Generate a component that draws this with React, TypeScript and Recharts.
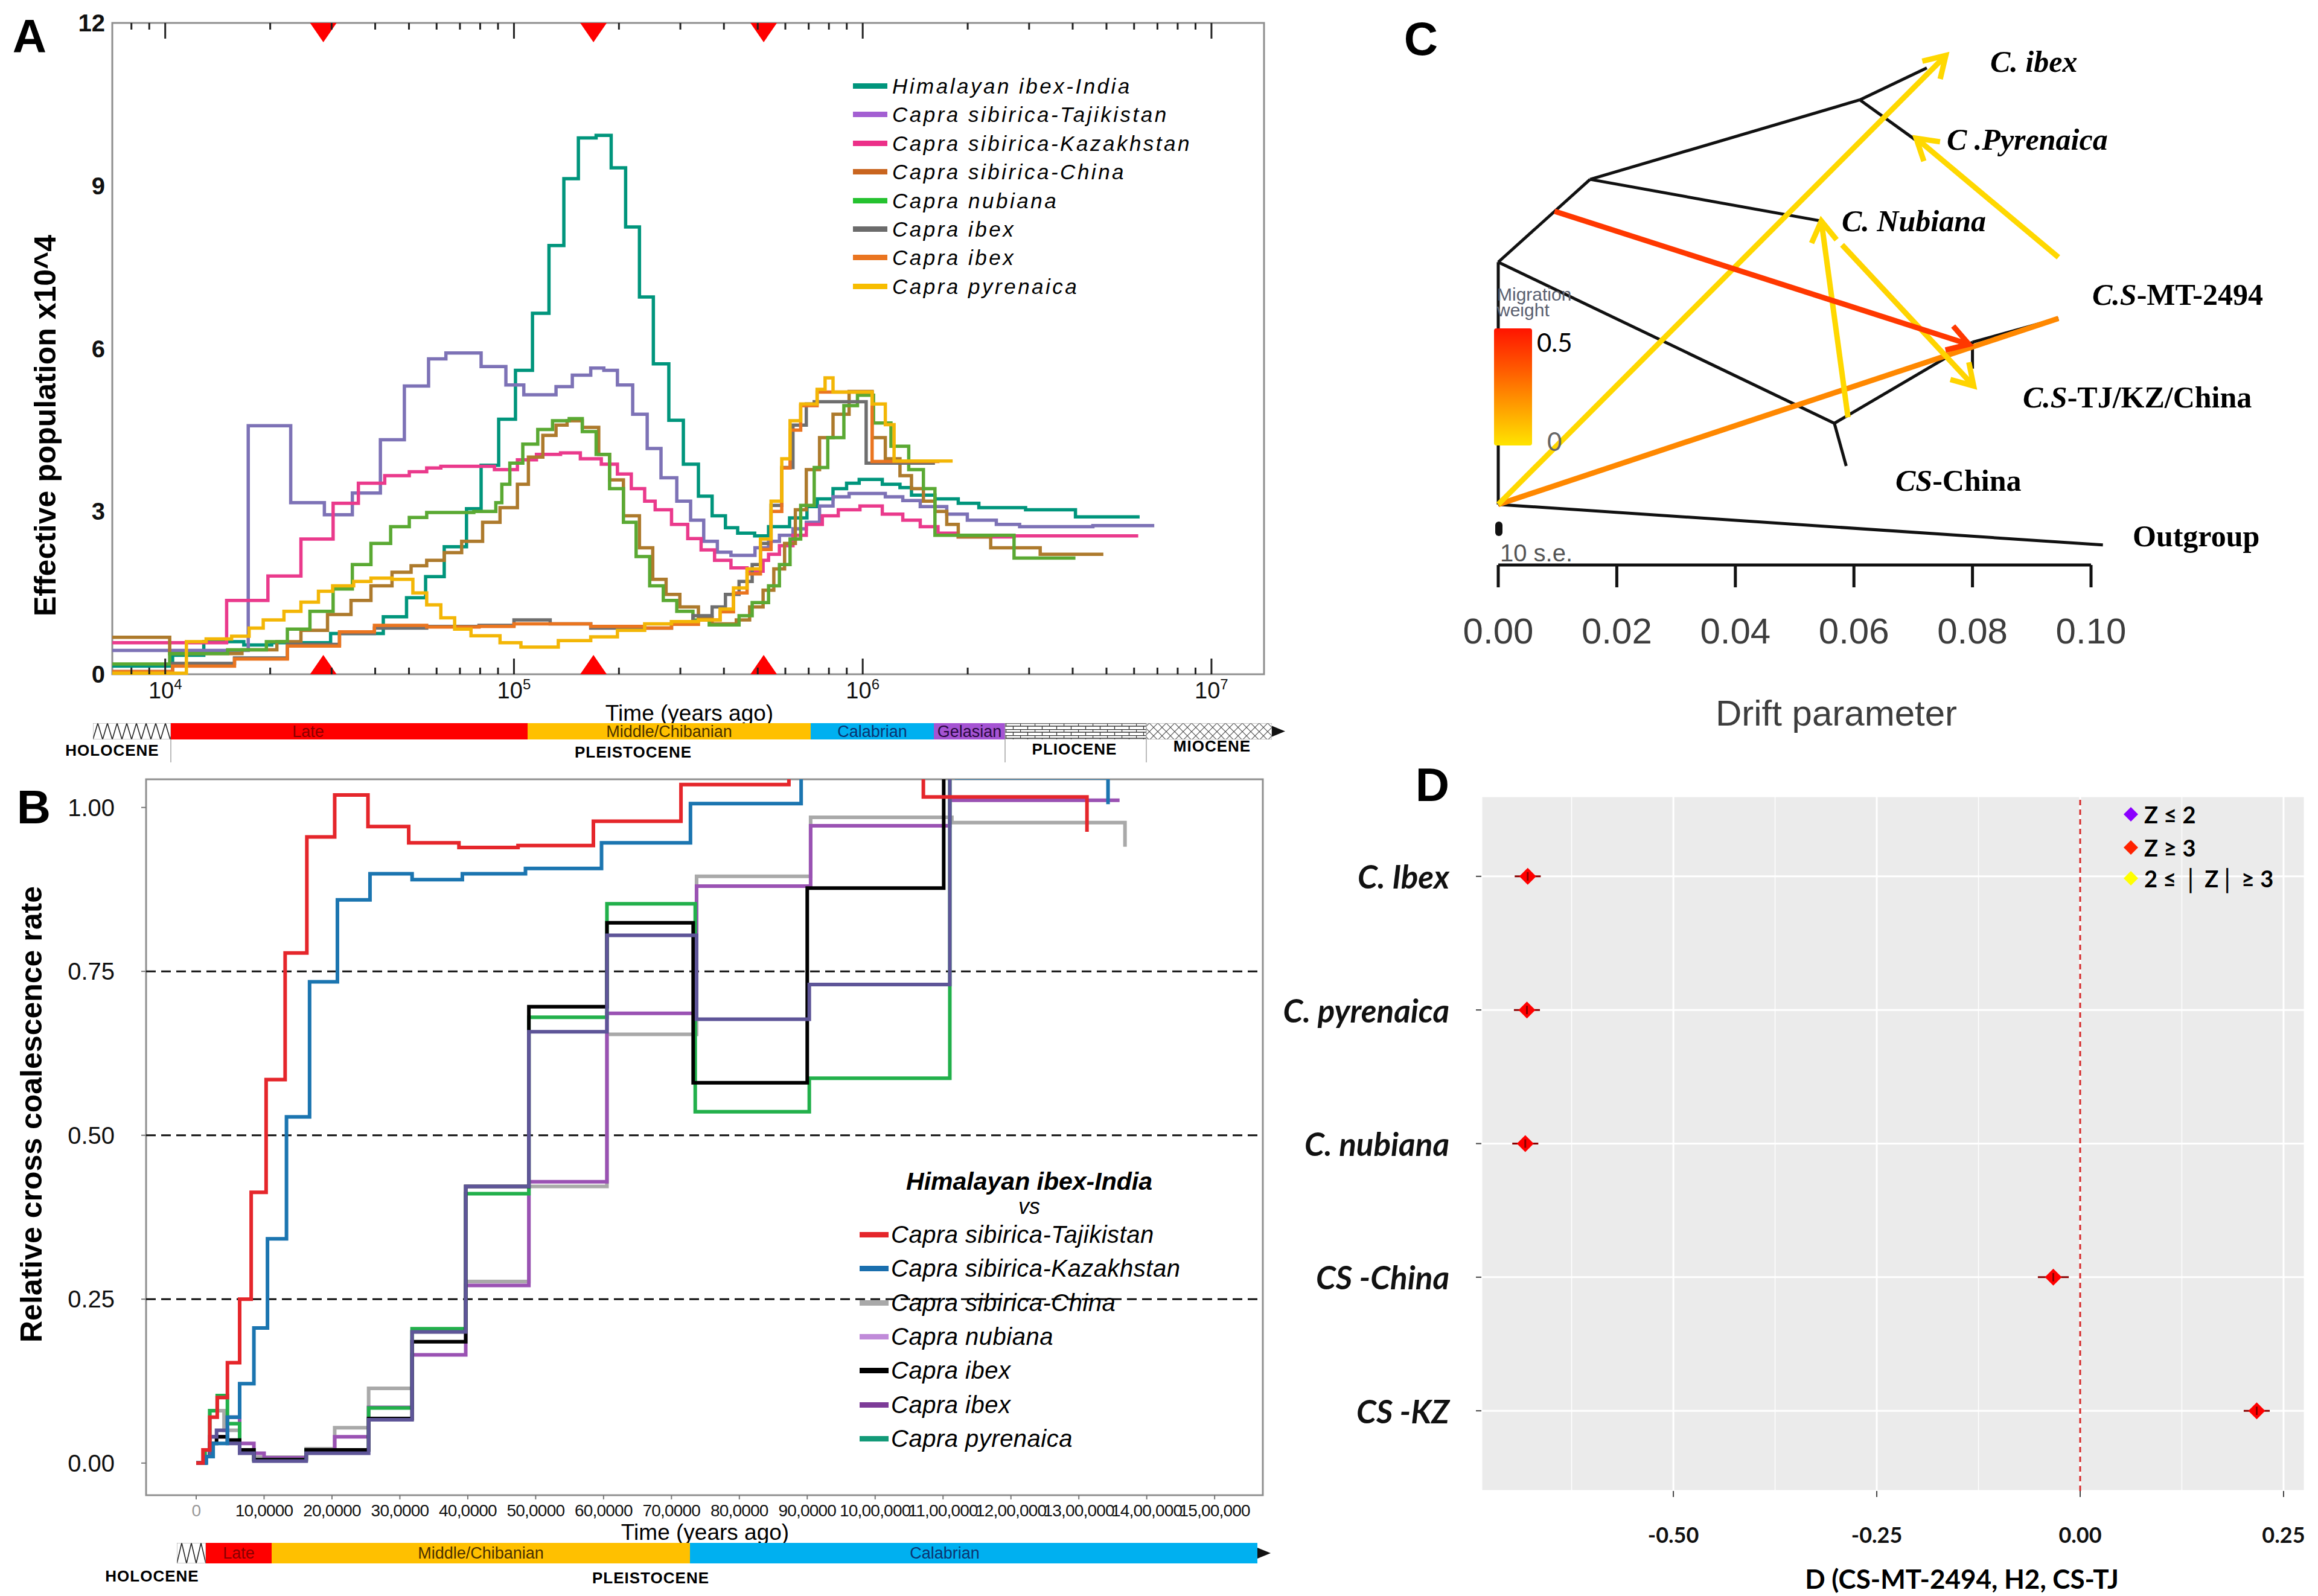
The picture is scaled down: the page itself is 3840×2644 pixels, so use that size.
import React from 'react';
import {
  ComposedChart, Line, XAxis, YAxis, ReferenceLine, ReferenceArea, ReferenceDot,
  ScatterChart, Scatter, ErrorBar, CartesianGrid, BarChart, Bar, LabelList,
} from 'recharts';

const SANS = "'Liberation Sans', Arial, Helvetica, sans-serif";
const SERIF = "'Liberation Serif', 'Times New Roman', serif";
const CAL = "Lato, 'Open Sans', sans-serif";

// ---------------- A: PSMC, [years ago, Ne x10^4] (step starts) ----------------
const psmcNames = [
  'Himalayan ibex-India', 'Capra sibirica-Tajikistan', 'Capra sibirica-Kazakhstan', 'Capra sibirica-China',
  'Capra nubiana', 'Capra ibex', 'Capra ibex', 'Capra pyrenaica',
];
const psmcColors = ['#00957c', '#7d72b6', '#ea3a8c', '#ad7a2c', '#5aa933', '#6e6e6e', '#ea7520', '#f3b606'];
const psmcLegendColors = ['#00957c', '#a35fd2', '#ec2f88', '#c9651f', '#25c22f', '#6b6b6b', '#ea7520', '#f7bd00'];

const himalayanIndia = [[7050,0.15],[10500,0.35],[12900,0.6],[16800,0.54],[20200,0.58],[29800,0.75],[42200,1.06],[49200,1.41],[55800,1.8],[63100,2.35],[73100,3.05],[80500,3.85],[90400,4.7],[101000,5.6],[113000,6.65],[126000,7.9],[139000,9.13],[153000,9.88],[172000,9.93],[190000,9.33],[209000,8.24],[229000,6.95],[251000,5.72],[278000,4.68],[306000,3.87],[338000,3.28],[370000,2.92],[404000,2.7],[438000,2.6],[490000,2.55],[537000,2.72],[617000,2.88],[692000,3.09],[741000,3.23],[822000,3.42],[899000,3.52],[977000,3.59],[1138000,3.5],[1279000,3.44],[1380000,3.3],[1611000,3.23],[1879000,3.15],[2153000,3.07],[2931000,3.03],[4074000,2.9],[6223000,2.9]];
const sibiricaTajikistan = [[7050,0.44],[17300,4.58],[22900,3.16],[28600,2.94],[34400,3.34],[41400,4.32],[48500,5.31],[56900,5.81],[63800,5.92],[80500,5.67],[94800,5.33],[106700,5.15],[132000,5.3],[147000,5.51],[166000,5.64],[181000,5.6],[198000,5.33],[219000,4.79],[241000,4.16],[264000,3.62],[293000,3.19],[321000,2.84],[350000,2.45],[383000,2.25],[419000,2.19],[491000,2.33],[537000,2.45],[577000,2.56],[631000,2.68],[689000,2.8],[752000,3.1],[822000,3.27],[914000,3.33],[1161000,3.27],[1303000,3.2],[1462000,3.09],[1742000,2.95],[1995000,2.84],[2416000,2.76],[2818000,2.72],[4571000,2.74],[6855000,2.74]];
const sibiricaKazakhstan = [[7050,0.58],[15000,1.36],[19700,1.81],[24500,2.49],[30300,3.15],[35800,3.52],[42600,3.66],[50100,3.73],[56200,3.8],[61700,3.83],[87900,3.77],[102300,3.95],[116000,4.05],[136000,4.08],[155000,3.97],[178000,3.87],[198000,3.69],[217000,3.42],[237000,3.19],[254000,3.03],[283000,2.76],[315000,2.5],[344000,2.29],[376000,2.1],[419000,1.96],[466000,1.9],[518000,2.1],[537000,2.21],[577000,2.37],[631000,2.56],[689000,2.76],[766000,2.92],[851000,3.03],[982000,3.1],[1138000,2.95],[1303000,2.84],[1462000,2.72],[1644000,2.6],[1879000,2.53],[2716000,2.55],[6166000,2.55]];
const sibiricaChina = [[7050,0.68],[10300,0.38],[16600,0.45],[20900,0.6],[24500,0.81],[29200,1.1],[34100,1.36],[38900,1.63],[44700,1.88],[50700,2.0],[56200,2.1],[63100,2.24],[70800,2.45],[81300,2.8],[91200,3.07],[102300,3.5],[110000,4.0],[121000,4.4],[132000,4.59],[142000,4.67],[157000,4.55],[175000,4.05],[188000,3.58],[206000,2.92],[229000,2.33],[250000,1.75],[273000,1.47],[299000,1.24],[338000,1.04],[370000,0.93],[434000,1.0],[474000,1.24],[518000,1.55],[556000,1.94],[597000,2.41],[641000,3.03],[689000,3.77],[752000,4.36],[822000,4.79],[914000,5.21],[1064000,4.36],[1161000,3.97],[1279000,3.66],[1380000,3.42],[1493000,3.19],[1611000,3.0],[1742000,2.76],[1879000,2.53],[2328000,2.33],[3228000,2.21],[4898000,2.21]];
const nubiana = [[7050,0.19],[10300,0.38],[15100,0.45],[19500,0.6],[22400,0.83],[26000,1.16],[30300,1.57],[34400,2.02],[38900,2.41],[44300,2.72],[50100,2.89],[56200,2.98],[76700,3.0],[88700,3.16],[92300,3.5],[97300,3.89],[106000,4.24],[117000,4.51],[129000,4.67],[144000,4.71],[157000,4.47],[172000,4.05],[188000,3.42],[206000,2.8],[224000,2.17],[245000,1.63],[268000,1.36],[293000,1.16],[326000,1.0],[363000,0.91],[442000,1.08],[482000,1.32],[537000,1.63],[577000,2.02],[619000,2.49],[664000,3.11],[726000,3.81],[794000,4.36],[883000,4.95],[966000,5.14],[1074000,4.63],[1205000,4.2],[1355000,3.77],[1493000,3.42],[1611000,2.56],[2716000,2.14],[4074000,2.14]];
const ibexA = [[7050,0.05],[10500,0.2],[15800,0.3],[22400,0.55],[31600,0.75],[39800,0.85],[56200,0.88],[79400,0.9],[100000,1.0],[127000,0.93],[166000,0.85],[283000,0.97],[326000,1.08],[370000,1.24],[404000,1.47],[442000,1.71],[482000,2.02],[509000,2.41],[546000,3.11],[586000,3.81],[631000,4.59],[689000,4.98],[726000,5.02],[1023000,3.89],[1611000,3.89]];
const ibexB = [[7050,0.05],[10500,0.15],[15800,0.28],[22400,0.52],[31600,0.78],[39800,0.9],[56200,0.87],[79400,0.88],[100000,0.93],[166000,0.88],[237000,0.85],[283000,0.92],[338000,1.0],[390000,1.15],[426000,1.5],[466000,1.85],[509000,2.3],[546000,3.0],[586000,3.8],[619000,4.5],[664000,4.95],[740000,5.2],[1064000,3.92],[1660000,3.92]];
const pyrenaica = [[7050,0.02],[11500,0.6],[13100,0.65],[15500,0.7],[17400,0.85],[19100,1.0],[21900,1.16],[24500,1.33],[27500,1.53],[30200,1.63],[34700,1.71],[38900,1.77],[44700,1.75],[51300,1.5],[56200,1.28],[61700,1.04],[67600,0.83],[75300,0.71],[91200,0.58],[104700,0.5],[134000,0.62],[166000,0.69],[198000,0.81],[237000,0.93],[283000,0.97],[338000,1.0],[390000,1.2],[426000,1.59],[466000,1.94],[509000,2.49],[546000,3.19],[586000,3.97],[619000,4.67],[664000,4.98],[740000,5.25],[780000,5.46],[822000,5.2],[1064000,4.98],[1161000,4.6],[1230000,3.93],[1811000,3.93]];
const psmcSeries = [himalayanIndia, sibiricaTajikistan, sibiricaKazakhstan, sibiricaChina, nubiana, ibexA, ibexB, pyrenaica];

const bottleneckTimes = [28400, 169000, 520000];
const logTicksA = [8000, 9000, 10000, 20000, 30000, 40000, 50000, 60000, 70000, 80000, 90000,
  100000, 200000, 300000, 400000, 500000, 600000, 700000, 800000, 900000,
  1000000, 2000000, 3000000, 4000000, 5000000, 6000000, 7000000, 8000000, 9000000, 10000000];
const majorTicksA = [10000, 100000, 1000000, 10000000];
const neTicks = [0, 3, 6, 9, 12];

// ---------------- B: relative cross coalescence, [years ago, rate] ----------------
const ccrNames = ['Capra sibirica-Tajikistan', 'Capra sibirica-Kazakhstan', 'Capra sibirica-China', 'Capra nubiana', 'Capra ibex', 'Capra ibex', 'Capra pyrenaica'];
const ccrColors = ['#e5262b', '#1b75b0', '#a9a9a9', '#9a52b3', '#000000', '#5e5598', '#22b04b'];
const ccrLegendColors = ['#e5262b', '#1a6fae', '#a9a9a9', '#c08bd9', '#000000', '#7d3c98', '#139a78'];
const ccrTajikistan = [[0,0],[10000,0.02],[20000,0.07],[31000,0.1],[46000,0.153],[64000,0.25],[81000,0.413],[103000,0.585],[131000,0.778],[163000,0.955],[204000,1.019],[253000,0.971],[313000,0.946],[387000,0.939],[474000,0.942],[585000,0.979],[714000,1.035],[873000,1.1],[1071000,1.016],[1312000,0.963]];
const ccrKazakhstan = [[0,0],[15000,0.01],[25000,0.03],[46000,0.07],[64000,0.121],[85000,0.206],[105000,0.342],[133000,0.528],[167000,0.734],[208000,0.859],[256000,0.899],[318000,0.89],[392000,0.899],[485000,0.907],[597000,0.946],[728000,1.006],[891000,1.1],[1120000,1.045],[1343000,1.005]];
const ccrChina = [[0,0],[13000,0.02],[20000,0.08],[41000,0.05],[64000,0.02],[85000,0.009],[162000,0.022],[204000,0.054],[254000,0.114],[318000,0.2],[397000,0.277],[490000,0.422],[605000,0.654],[737000,0.895],[905000,0.985],[1113000,0.977],[1368000,0.94]];
const ccrNubiana = [[0,0],[13000,0.01],[20000,0.04],[46000,0.07],[64000,0.03],[85000,0.015],[100000,0.008],[162000,0.02],[204000,0.04],[254000,0.085],[318000,0.165],[397000,0.271],[490000,0.429],[605000,0.686],[737000,0.88],[905000,0.972],[1110000,1.011],[1360000,1.011]];
const ccrIbexA = [[0,0],[13000,0.01],[20000,0.03],[30000,0.04],[46000,0.035],[64000,0.02],[85000,0.005],[162000,0.02],[254000,0.068],[318000,0.185],[397000,0.422],[490000,0.696],[605000,0.824],[732000,0.58],[900000,0.877],[1101000,1.1],[1130000,1.1]];
const ccrIbexB = [[0,0],[13000,0.01],[20000,0.04],[30000,0.05],[46000,0.03],[64000,0.015],[85000,0.003],[162000,0.015],[254000,0.066],[318000,0.2],[397000,0.422],[490000,0.658],[605000,0.805],[737000,0.677],[903000,0.73],[1110000,1.1],[1140000,1.1]];
const ccrPyrenaica = [[0,0],[13000,0.02],[20000,0.08],[31000,0.103],[46000,0.06],[64000,0.02],[85000,0.005],[162000,0.02],[254000,0.084],[318000,0.205],[397000,0.411],[490000,0.68],[605000,0.853],[735000,0.536],[903000,0.587],[1110000,1.1],[1140000,1.1]];
const ccrSeries = [ccrTajikistan, ccrKazakhstan, ccrChina, ccrNubiana, ccrIbexA, ccrIbexB, ccrPyrenaica];
const ccrDrawOrder = [2, 3, 6, 4, 5, 1, 0];
const ccrTicks = [0, 100000, 200000, 300000, 400000, 500000, 600000, 700000, 800000, 900000, 1000000, 1100000, 1200000, 1300000, 1400000, 1500000];
const ccrTickLabels = ['0', '10,0000', '20,0000', '30,0000', '40,0000', '50,0000', '60,0000', '70,0000', '80,0000', '90,0000', '10,00,000', '11,00,000', '12,00,000', '13,00,000', '14,00,000', '15,00,000'];
const ccrYTicks = [0, 0.25, 0.5, 0.75, 1];

// ---------------- geological time bars ----------------
const eraNamesA = ['holocene', 'late', 'middle', 'calabrian', 'gelasian', 'pliocene', 'miocene'];
const eraLabelsA = ['', 'Late', 'Middle/Chibanian', 'Calabrian', 'Gelasian', '', ''];
const eraSpanA = [129, 591, 469, 204, 118, 234, 208];
const eraNamesB = ['holocene', 'late', 'middle', 'calabrian'];
const eraLabelsB = ['', 'Late', 'Middle/Chibanian', 'Calabrian'];
const eraSpanB = [48, 109, 693, 940];

// ---------------- C: TreeMix ----------------
const treeNodes: Record<string, number[]> = {
  root: [0, 1.12], outgroup: [0.102, 0.37], n1: [0, 5.6], n2: [0.0155, 7.13], n3: [0.061, 8.6],
  ibex: [0.0723, 9.19], pyrenaica: [0.0705, 7.85], nubiana: [0.0545, 6.36], n4: [0.0567, 2.62],
  csChina: [0.0587, 1.83], n5: [0.08, 4.12], tjkz: [0.08, 3.63], mt2494: [0.0945, 4.56],
};
const treeEdges = [['root', 'outgroup'], ['root', 'n1'], ['n1', 'n2'], ['n2', 'n3'], ['n3', 'ibex'], ['n3', 'pyrenaica'],
  ['n2', 'nubiana'], ['n1', 'n4'], ['n4', 'csChina'], ['n4', 'n5'], ['n5', 'tjkz'], ['n5', 'mt2494']];
// migration edges: from [drift, height], to [drift, height], weight
const migFrom = [[0, 1.12], [0, 1.12], [0.0945, 5.69], [0.059, 2.73], [0.058, 5.92], [0.0095, 6.54]];
const migTo = [[0.0945, 4.56], [0.0755, 9.42], [0.0705, 7.89], [0.0545, 6.36], [0.0802, 3.31], [0.0794, 4.08]];
const migWeight = [0.22, 0.02, 0.02, 0.02, 0.03, 0.42];
const migHead = [false, true, true, true, true, true];
const driftTicks = [0, 0.02, 0.04, 0.06, 0.08, 0.1];

// ---------------- D: D-statistics ----------------
const dCategories = ['C. Ibex', 'C. pyrenaica', 'C. nubiana', 'CS -China', 'CS -KZ'];
const dValues = [-0.679, -0.68, -0.682, -0.033, 0.217];
const dErrors = [0.016, 0.016, 0.016, 0.019, 0.016];
const dTicks = [-0.5, -0.25, 0, 0.25];
const dMinor = [-0.625, -0.375, -0.125, 0.125];
const zLegend = ['Z ≤ 2', 'Z  ≥  3', '2 ≤ │ Z│ ≥ 3'];
const zColors = ['#8b00ff', '#ff2200', '#ffff00'];

const toPts = (a: number[][]) => a.map(([t, v]) => ({ t, v }));

function Txt({ x, y, size, children, anchor = 'start', weight = 'normal', italic = false, family = SANS, color = '#000', rotate = 0, ls = 0 }: any) {
  const tx = anchor === 'middle' ? '-50%' : anchor === 'end' ? '-100%' : '0%';
  return (
    <div style={{
      position: 'absolute', left: x, top: y, transform: `translate(${tx}, -50%)${rotate ? ` rotate(${rotate}deg)` : ''}`,
      fontSize: size, lineHeight: 1, fontFamily: family, fontWeight: weight, fontStyle: italic ? 'italic' : 'normal',
      color, whiteSpace: 'nowrap', letterSpacing: ls,
    }}>{children}</div>
  );
}

// ---------- A ticks ----------
const A_PLOT_H = 1079;
const logTick = (p: any) => {
  const { x, y, payload } = p;
  const v = payload.value;
  const major = majorTicksA.includes(v);
  const len = major ? 26 : 11;
  const top = y - A_PLOT_H;
  return (
    <g>
      <line x1={x} x2={x} y1={y} y2={y - len} stroke="#222" strokeWidth={3} />
      <line x1={x} x2={x} y1={top} y2={top + len} stroke="#222" strokeWidth={3} />
      {major && (
        <text x={x} y={y + 40} textAnchor="middle" fontSize={38} fontFamily={SANS} fill="#111">
          10<tspan dy={-15} fontSize={24}>{Math.round(Math.log10(v))}</tspan>
        </text>
      )}
    </g>
  );
};
const neTick = (p: any) => (
  <text x={p.x - 12} y={p.y} textAnchor="end" dominantBaseline="central" fontSize={40} fontWeight={700} fontFamily={SANS} fill="#111">
    {p.payload.value}
  </text>
);

const TriDown = (p: any) => <polygon points={`${p.cx - 22},${p.cy} ${p.cx + 22},${p.cy} ${p.cx},${p.cy + 32}`} fill="#ff0000" />;
const TriUp = (p: any) => <polygon points={`${p.cx - 22},${p.cy} ${p.cx + 22},${p.cy} ${p.cx},${p.cy - 32}`} fill="#ff0000" />;

function PanelA() {
  return (
    <div style={{ position: 'absolute', left: 0, top: 0 }}>
      <ComposedChart width={2140} height={1180} margin={{ top: 38, right: 46, bottom: 23, left: 66 }}>
        <XAxis dataKey="t" type="number" scale="log" domain={[7050, 14150000]} allowDataOverflow ticks={logTicksA}
          interval={0} tick={logTick} tickLine={false} axisLine={false} tickSize={0} tickMargin={0} height={40} />
        <YAxis type="number" domain={[0, 12]} ticks={neTicks} interval={0} tick={neTick} tickLine={false}
          axisLine={false} tickSize={0} tickMargin={0} width={120} />
        <ReferenceArea x1={7050} x2={14150000} y1={0} y2={12} fill="none" fillOpacity={0} stroke="#8f8f8f" strokeWidth={3} ifOverflow="visible" />
        {psmcSeries.map((s, i) => (
          <Line key={i} data={toPts(s)} dataKey="v" type="stepAfter" stroke={psmcColors[i]} strokeWidth={5.5}
            dot={false} activeDot={false} isAnimationActive={false} />
        ))}
        {bottleneckTimes.map((t) => <ReferenceDot key={'d' + t} x={t} y={12} shape={TriDown} ifOverflow="visible" />)}
        {bottleneckTimes.map((t) => <ReferenceDot key={'u' + t} x={t} y={0} shape={TriUp} ifOverflow="visible" />)}
      </ComposedChart>
      {psmcNames.map((n, i) => (
        <React.Fragment key={i}>
          <div style={{ position: 'absolute', left: 1413, top: 142 + i * 47.4 - 4, width: 57, height: 9, background: psmcLegendColors[i] }} />
          <Txt x={1478} y={142 + i * 47.4} size={35} italic ls={3.5}>{n}</Txt>
        </React.Fragment>
      ))}
      <Txt x={75} y={705} size={50} weight={700} anchor="middle" rotate={-90}>Effective population x10^4</Txt>
      <Txt x={1142} y={1181} size={37} anchor="middle">Time (years ago)</Txt>
    </div>
  );
}

// ---------- timeline bar ----------
function Timeline({ id, names, labels, spans, left, top, width, height, labelDx }: any) {
  const row: any = { era: 'era' };
  names.forEach((n: string, i: number) => { row[n] = spans[i]; });
  const total = spans.reduce((a: number, b: number) => a + b, 0);
  const fills: Record<string, string> = {
    holocene: `url(#${id}-holo)`, late: '#ff0000', middle: '#ffc000', calabrian: '#00b0f0', gelasian: '#a553d3',
    pliocene: `url(#${id}-plio)`, miocene: `url(#${id}-mio)`,
  };
  const textColors: Record<string, string> = { late: '#8a0000', middle: '#4a3000', calabrian: '#0b3470', gelasian: '#2a0a40' };
  return (
    <div style={{ position: 'absolute', left, top }}>
      <BarChart layout="vertical" width={width} height={height} data={[row]} margin={{ top: 0, right: 0, bottom: 0, left: 0 }} barCategoryGap={0}>
        <defs>
          <pattern id={`${id}-holo`} width={16} height={height} patternUnits="userSpaceOnUse">
            <rect width={16} height={height} fill="#fff" />
            <path d={`M0 ${height} L8 0 L16 ${height}`} stroke="#222" strokeWidth={1.6} fill="none" />
          </pattern>
          <pattern id={`${id}-plio`} width={24} height={10} patternUnits="userSpaceOnUse">
            <rect width={24} height={10} fill="#fff" />
            <path d="M0 0.5 H24 M0 5 H24 M0.5 0 V5 M12.5 5 V10" stroke="#333" strokeWidth={1.3} fill="none" />
          </pattern>
          <pattern id={`${id}-mio`} width={14} height={14} patternUnits="userSpaceOnUse">
            <rect width={14} height={14} fill="#fff" />
            <path d="M0 0 L14 14 M14 0 L0 14" stroke="#555" strokeWidth={1.2} fill="none" />
          </pattern>
        </defs>
        <XAxis type="number" hide domain={[0, total]} />
        <YAxis type="category" dataKey="era" hide />
        {names.map((n: string, i: number) => (
          <Bar key={n} dataKey={n} stackId="t" fill={fills[n]} stroke={fills[n].startsWith('url') ? '#999' : 'none'}
            isAnimationActive={false}>
            {labels[i] && (
              <LabelList dataKey={n} content={(p: any) => {
                const vb = p.viewBox && p.viewBox.width !== undefined ? p.viewBox : p;
                return (
                  <text x={vb.x + vb.width / 2 + (labelDx[i] || 0)} y={vb.y + vb.height / 2} textAnchor="middle"
                    dominantBaseline="central" fontSize={27} fontFamily={SANS} fill={textColors[n]}>{labels[i]}</text>
                );
              }} />
            )}
          </Bar>
        ))}
      </BarChart>
      <svg style={{ position: 'absolute', left: width, top: 0 }} width={26} height={height}>
        <polygon points={`0,${height / 2 - 9} 22,${height / 2} 0,${height / 2 + 9}`} fill="#111" />
      </svg>
    </div>
  );
}

// ---------- B ----------
const ccrXTick = (p: any) => {
  const i = ccrTicks.indexOf(p.payload.value);
  return (
    <g>
      <line x1={p.x} x2={p.x} y1={p.y} y2={p.y + 7} stroke="#777" strokeWidth={2} />
      <text x={p.x} y={p.y + 25} textAnchor="middle" dominantBaseline="central" fontSize={28} fontFamily={SANS}
        fill={i === 0 ? '#999' : '#111'} letterSpacing={-0.8}>{ccrTickLabels[i]}</text>
    </g>
  );
};
const ccrYTick = (p: any) => (
  <g>
    <line x1={p.x - 8} x2={p.x} y1={p.y} y2={p.y} stroke="#777" strokeWidth={2} />
    <text x={p.x - 52} y={p.y} textAnchor="end" dominantBaseline="central" fontSize={40} fontFamily={SANS} fill="#111">
      {p.payload.value.toFixed(2)}
    </text>
  </g>
);

function PanelB() {
  return (
    <div style={{ position: 'absolute', left: 0, top: 1240 }}>
      <ComposedChart width={2140} height={1300} margin={{ top: 51, right: 48, bottom: 23, left: 42 }}>
        <XAxis dataKey="t" type="number" domain={[-73800, 1571000]} allowDataOverflow ticks={ccrTicks} interval={0}
          tick={ccrXTick} tickLine={false} axisLine={false} tickSize={0} tickMargin={0} height={40} />
        <YAxis type="number" domain={[-0.049, 1.043]} allowDataOverflow ticks={ccrYTicks} interval={0} tick={ccrYTick}
          tickLine={false} axisLine={false} tickSize={0} tickMargin={0} width={200} />
        <ReferenceArea x1={-73800} x2={1571000} y1={-0.049} y2={1.043} fill="none" fillOpacity={0} stroke="#8f8f8f" strokeWidth={3} ifOverflow="visible" />
        {[0.25, 0.5, 0.75].map((v) => (
          <ReferenceLine key={v} y={v} stroke="#111" strokeWidth={3} strokeDasharray="16 9" />
        ))}
        {ccrDrawOrder.map((i) => (
          <Line key={i} data={toPts(ccrSeries[i])} dataKey="v" type="stepAfter" stroke={ccrColors[i]} strokeWidth={6}
            dot={false} activeDot={false} isAnimationActive={false} />
        ))}
      </ComposedChart>
      <Txt x={1705} y={717} size={41} weight={700} italic anchor="middle">Himalayan ibex-India</Txt>
      <Txt x={1705} y={759} size={36} italic anchor="middle">vs</Txt>
      {ccrNames.map((n, i) => (
        <React.Fragment key={i}>
          <div style={{ position: 'absolute', left: 1424, top: 805 + i * 56.3 - 4, width: 48, height: 9, background: ccrLegendColors[i] }} />
          <Txt x={1476} y={805 + i * 56.3} size={40} italic ls={0.5}>{n}</Txt>
        </React.Fragment>
      ))}
      <Txt x={52} y={606} size={50} weight={700} anchor="middle" rotate={-90}>Relative cross coalescence rate</Txt>
      <Txt x={1168} y={1298} size={37} anchor="middle">Time (years ago)</Txt>
    </div>
  );
}

// ---------- C ----------
const weightColor = (w: number) => {
  const t = Math.max(0, Math.min(1, w / 0.5));
  const g = Math.round(224 - t * 200);
  return `rgb(255, ${g}, 0)`;
};
const migrationShape = (color: string, head: boolean) => (p: any) => {
  const { x1, y1, x2, y2 } = p;
  const a = Math.atan2(y2 - y1, x2 - x1);
  const hl = 40;
  const s = 0.55;
  const h1x = x2 - hl * Math.cos(a - s), h1y = y2 - hl * Math.sin(a - s);
  const h2x = x2 - hl * Math.cos(a + s), h2y = y2 - hl * Math.sin(a + s);
  return (
    <g>
      <line x1={x1} y1={y1} x2={x2} y2={y2} stroke={color} strokeWidth={9} />
      {head && <polyline points={`${h1x},${h1y} ${x2},${y2} ${h2x},${h2y}`} fill="none" stroke={color} strokeWidth={9} />}
    </g>
  );
};
const driftTick = (p: any) => (
  <g>
    <line x1={p.x} x2={p.x} y1={p.y} y2={p.y + 37} stroke="#111" strokeWidth={5} />
    <text x={p.x} y={p.y + 109} textAnchor="middle" dominantBaseline="central" fontSize={60} fontFamily={SANS} fill="#3d3d3d">
      {p.payload.value.toFixed(2)}
    </text>
  </g>
);
const emptyShape = () => <g />;

function PanelC() {
  const tips = Object.keys(treeNodes).map((k) => ({ x: treeNodes[k][0], y: treeNodes[k][1] }));
  return (
    <div style={{ position: 'absolute', left: 2300, top: 0 }}>
      <ScatterChart width={1540} height={1240} margin={{ top: 40, right: 376, bottom: 4, left: 182 }}>
        <XAxis dataKey="x" type="number" domain={[0, 0.1]} allowDataOverflow ticks={driftTicks} interval={0}
          tick={driftTick} tickLine={false} axisLine={{ stroke: '#111', strokeWidth: 5 }} tickSize={0} tickMargin={0} height={300} />
        <YAxis dataKey="y" type="number" domain={[0, 10]} allowDataOverflow hide />
        {treeEdges.map(([a, b]) => (
          <ReferenceLine key={a + b} ifOverflow="visible" stroke="#111" strokeWidth={5}
            segment={[{ x: treeNodes[a][0], y: treeNodes[a][1] }, { x: treeNodes[b][0], y: treeNodes[b][1] }]} />
        ))}
        {migFrom.map((f, i) => (
          <ReferenceLine key={'m' + i} ifOverflow="visible" shape={migrationShape(weightColor(migWeight[i]), migHead[i])}
            segment={[{ x: f[0], y: f[1] }, { x: migTo[i][0], y: migTo[i][1] }]} />
        ))}
        <Scatter data={tips} shape={emptyShape} isAnimationActive={false} />
      </ScatterChart>
      <div style={{ position: 'absolute', left: 175, top: 544, width: 63, height: 194, borderRadius: 4,
        background: 'linear-gradient(to bottom, #ff1400 0%, #ff5a00 35%, #ff9a00 65%, #ffe400 100%)' }} />
      <Txt x={180} y={488} size={30} color="#5a6070">Migration</Txt>
      <Txt x={180} y={514} size={30} color="#5a6070">weight</Txt>
      <Txt x={246} y={567} size={42} family={CAL}>0.5</Txt>
      <Txt x={263} y={731} size={42} family={CAL} color="#666">0</Txt>
      <div style={{ position: 'absolute', left: 177, top: 864, width: 12, height: 24, borderRadius: 6, background: '#111' }} />
      <Txt x={185} y={916} size={40} color="#555">10 s.e.</Txt>
      <Txt x={742} y={1182} size={60} anchor="middle" color="#3d3d3d">Drift parameter</Txt>
      <Txt x={997} y={102} size={50} weight={700} italic family={SERIF}>C. ibex</Txt>
      <Txt x={925} y={231} size={50} weight={700} italic family={SERIF}>C .Pyrenaica</Txt>
      <Txt x={751} y={366} size={50} weight={700} italic family={SERIF}>C. Nubiana</Txt>
      <Txt x={1166} y={488} size={50} weight={700} family={SERIF}><i>C.S</i>-MT-2494</Txt>
      <Txt x={1051} y={658} size={50} weight={700} family={SERIF}><i>C.S</i>-TJ/KZ/China</Txt>
      <Txt x={840} y={796} size={50} weight={700} family={SERIF}><i>CS</i>-China</Txt>
      <Txt x={1233} y={888} size={50} weight={700} family={SERIF}>Outgroup</Txt>
    </div>
  );
}

// ---------- D ----------
const dXTick = (p: any) => (
  <g>
    <line x1={p.x} x2={p.x} y1={p.y} y2={p.y + 10} stroke="#444" strokeWidth={2} />
    <text x={p.x} y={p.y + 72} textAnchor="middle" dominantBaseline="central" fontSize={36} fontWeight={700} fontFamily={CAL} fill="#111">
      {p.payload.value.toFixed(2)}
    </text>
  </g>
);
const dYTick = (p: any) => (
  <g>
    <line x1={p.x - 9} x2={p.x} y1={p.y} y2={p.y} stroke="#444" strokeWidth={2} />
    <text x={p.x - 53} y={p.y} textAnchor="end" dominantBaseline="central" fontSize={53} fontWeight={700} fontStyle="italic"
      fontFamily={CAL} fill="#111">{dCategories[p.payload.value - 1]}</text>
  </g>
);
const diamond = (p: any) => (
  <g>
    <polygon points={`${p.cx},${p.cy - 14} ${p.cx + 14},${p.cy} ${p.cx},${p.cy + 14} ${p.cx - 14},${p.cy}`} fill="#ff0000" />
    <line x1={p.cx} x2={p.cx} y1={p.cy - 7} y2={p.cy + 7} stroke="#8b0000" strokeWidth={3} />
  </g>
);

function PanelD() {
  const pts = dCategories.map((name, i) => ({ name, y: i + 1, d: dValues[i], err: dErrors[i] }));
  return (
    <div style={{ position: 'absolute', left: 2100, top: 1280 }}>
      <ScatterChart width={1740} height={1364} margin={{ top: 39, right: 22, bottom: 0, left: 0 }}>
        <CartesianGrid fill="#ebebeb" stroke="#ffffff" strokeWidth={3} />
        {dMinor.map((v) => <ReferenceLine key={v} x={v} stroke="#ffffff" strokeWidth={1.5} />)}
        <XAxis dataKey="d" type="number" domain={[-0.736, 0.276]} allowDataOverflow ticks={dTicks} interval={0}
          tick={dXTick} tickLine={false} axisLine={false} tickSize={0} tickMargin={0} height={174} />
        <YAxis dataKey="y" type="number" domain={[0.4, 5.6]} allowDataOverflow reversed ticks={[1, 2, 3, 4, 5]} interval={0}
          tick={dYTick} tickLine={false} axisLine={false} tickSize={0} tickMargin={0} width={354} />
        <ReferenceLine x={0} stroke="#d42a2a" strokeWidth={3} strokeDasharray="9 7" />
        <Scatter data={pts} shape={diamond} isAnimationActive={false}>
          <ErrorBar dataKey="err" direction="x" width={0} stroke="#8b0000" strokeWidth={3} />
        </Scatter>
      </ScatterChart>
      {zLegend.map((z, i) => (
        <React.Fragment key={i}>
          <svg style={{ position: 'absolute', left: 1418, top: [69, 124, 175][i] - 12 }} width={24} height={24}>
            <polygon points="12,0 24,12 12,24 0,12" fill={zColors[i]} />
          </svg>
          <Txt x={1452} y={[69, 124, 175][i]} size={38} weight={700} family={CAL}>{z}</Txt>
        </React.Fragment>
      ))}
      <Txt x={1150} y={1335} size={44} weight={700} family={CAL} anchor="middle">D (CS-MT-2494, H2, CS-TJ</Txt>
    </div>
  );
}

export default function App() {
  return (
    <div style={{ position: 'absolute', left: 0, top: 0, width: 3840, height: 2644, background: '#fff', overflow: 'hidden', fontFamily: SANS }}>
      <PanelA />
      <Timeline id="ta" names={eraNamesA} labels={eraLabelsA} spans={eraSpanA} left={154} top={1198} width={1953} height={27}
        labelDx={[0, -68, 0, 0, 0, 0, 0]} />
      <div style={{ position: 'absolute', left: 282, top: 1225, width: 2, height: 38, background: '#bbb' }} />
      <div style={{ position: 'absolute', left: 1664, top: 1225, width: 2, height: 38, background: '#bbb' }} />
      <div style={{ position: 'absolute', left: 1898, top: 1225, width: 2, height: 38, background: '#bbb' }} />
      <Txt x={186} y={1243} size={26} weight={700} anchor="middle" ls={1}>HOLOCENE</Txt>
      <Txt x={1049} y={1246} size={26} weight={700} anchor="middle" ls={1}>PLEISTOCENE</Txt>
      <Txt x={1780} y={1241} size={26} weight={700} anchor="middle" ls={1}>PLIOCENE</Txt>
      <Txt x={2008} y={1236} size={26} weight={700} anchor="middle" ls={1}>MIOCENE</Txt>
      <PanelB />
      <Timeline id="tb" names={eraNamesB} labels={eraLabelsB} spans={eraSpanB} left={293} top={2556} width={1790} height={34}
        labelDx={[0, 0, 0, -48]} />
      <Txt x={252} y={2611} size={26} weight={700} anchor="middle" ls={1}>HOLOCENE</Txt>
      <Txt x={1078} y={2614} size={26} weight={700} anchor="middle" ls={1}>PLEISTOCENE</Txt>
      <PanelC />
      <PanelD />
      <Txt x={49} y={60} size={78} weight={700} anchor="middle">A</Txt>
      <Txt x={56} y={1337} size={78} weight={700} anchor="middle">B</Txt>
      <Txt x={2354} y={64} size={78} weight={700} anchor="middle">C</Txt>
      <Txt x={2373} y={1300} size={78} weight={700} anchor="middle">D</Txt>
    </div>
  );
}
